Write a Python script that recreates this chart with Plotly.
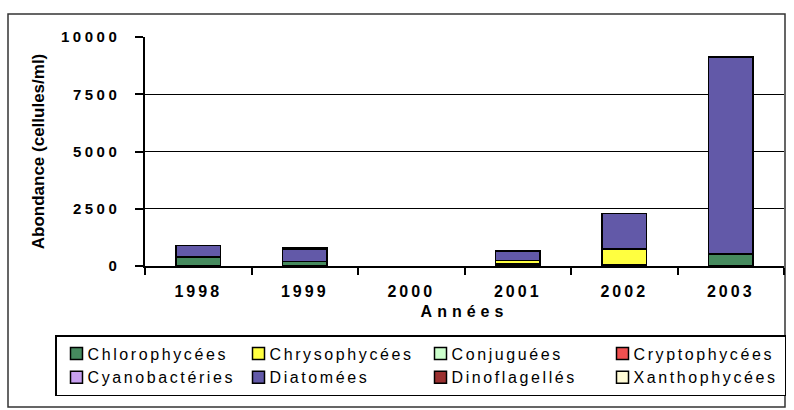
import plotly.graph_objects as go

years = ["1998", "1999", "2000", "2001", "2002", "2003"]
chlorophycees = [400, 200, 0, 80, 50, 520]
chrysophycees = [0, 0, 0, 150, 700, 0]
conjuguees = [0, 0, 0, 0, 0, 0]
cryptophycees = [0, 0, 0, 0, 0, 0]
cyanobacteries = [0, 0, 0, 0, 0, 0]
diatomees = [500, 520, 0, 420, 1550, 8600]
dinoflagelles = [0, 60, 0, 0, 0, 0]
xanthophycees = [0, 0, 0, 0, 0, 0]

series = [
    ("Chlorophycées", chlorophycees, "#468a5e"),
    ("Chrysophycées", chrysophycees, "#ffff40"),
    ("Conjuguées", conjuguees, "#ccffcc"),
    ("Cryptophycées", cryptophycees, "#f05050"),
    ("Cyanobactéries", cyanobacteries, "#c8a0f0"),
    ("Diatomées", diatomees, "#6259a8"),
    ("Dinoflagellés", dinoflagelles, "#9a3030"),
    ("Xanthophycées", xanthophycees, "#fffbd6"),
]

y_ticks = [0, 2500, 5000, 7500, 10000]

fig = go.Figure()
for name, vals, col in series:
    # zero-height segments are left out so they draw no outline
    fig.add_trace(go.Bar(
        x=years, y=[v if v else None for v in vals], name=name,
        marker=dict(color=col, line=dict(color="black", width=1.5)),
    ))

W, H = 794, 410
L, R, T, B = 145, 10, 37, 144
pw, ph = W - L - R, H - T - B

def px_x(x):
    return (x - L) / pw

def px_y(y):
    return (H - B - y) / ph

fig.update_layout(
    width=W, height=H,
    margin=dict(l=L, r=R, t=T, b=B, autoexpand=False),
    barmode="stack",
    bargap=0.585,
    plot_bgcolor="white",
    paper_bgcolor="white",
    font=dict(family="Liberation Sans, Arial, sans-serif", color="black", size=15),
    showlegend=True,
    legend=dict(
        orientation="h",
        x=px_x(55), y=px_y(335), xanchor="left", yanchor="top",
        bordercolor="black", borderwidth=1.5,
        entrywidth=137, entrywidthmode="pixels",
        font=dict(size=16),
        traceorder="normal",
        bgcolor="white",
    ),
    xaxis=dict(
        type="category",
        showline=True, linecolor="black", linewidth=1.5,
        ticks="outside", ticklen=7, tickcolor="black", tickwidth=1.5,
        tickson="boundaries",
        tickfont=dict(size=16, weight="bold"),
        ticklabelstandoff=10,
        showgrid=False,
        title=dict(text="Années", font=dict(size=16, weight="bold"), standoff=7),
    ),
    yaxis=dict(
        range=[0, 10000],
        tickvals=y_ticks,
        ticktext=[str(v) for v in y_ticks],
        showline=True, linecolor="black", linewidth=1.5,
        ticks="outside", ticklen=8, tickcolor="black", tickwidth=1.5,
        tickfont=dict(size=15, weight="bold"),
        ticklabelstandoff=12,
        showgrid=True, gridcolor="black", gridwidth=1,
        zeroline=False,
        title=dict(text="Abondance (cellules/ml)", font=dict(size=17, weight="bold"), standoff=30),
    ),
    shapes=[dict(
        type="rect", xref="paper", yref="paper",
        x0=px_x(8), x1=px_x(785), y0=px_y(407), y1=px_y(14),
        line=dict(color="#333333", width=1.5), fillcolor="rgba(0,0,0,0)", layer="below",
    )],
)

css = (
    "document.body.style.margin='0';"
    "var s=document.createElement('style');"
    "s.textContent='body{margin:0}.xtick text{letter-spacing:3px}.ytick text{letter-spacing:3.5px}"
    ".legendtext{letter-spacing:2.6px;transform:translateX(-9px)}.g-xtitle text{letter-spacing:5px}';"
    "document.head.appendChild(s);"
)

fig.write_html("out.html", post_script=css, config={"displayModeBar": False})
